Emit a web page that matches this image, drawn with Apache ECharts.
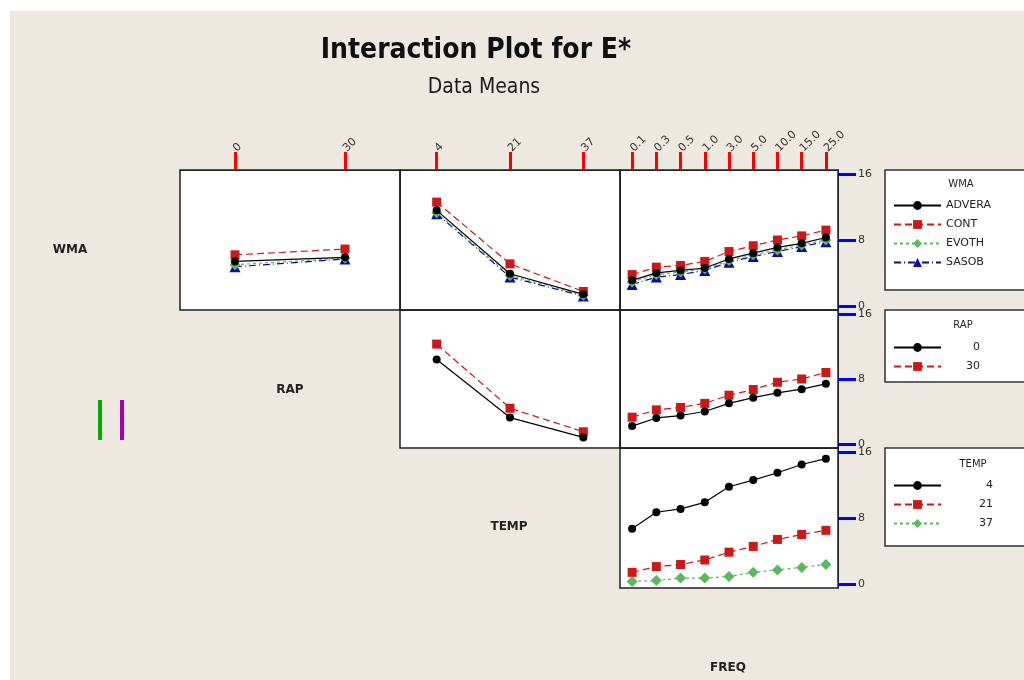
<!DOCTYPE html>
<html><head><meta charset="utf-8">
<script src="https://cdn.jsdelivr.net/npm/echarts@6/dist/echarts.min.js"></script>
<style>
html,body{margin:0;padding:0;background:#fff;}
#bg{position:absolute;left:10px;top:11px;width:1014px;height:669px;background:#ede9e1;}
#chart{position:absolute;left:0;top:0;width:1024px;height:680px;}
</style></head><body>
<div id="bg"></div><div id="chart"></div>
<script>
const RAP_LEVELS = ['0', '30'];
const TEMP_LEVELS = ['4', '21', '37'];
const FREQ_LEVELS = ['0.1', '0.3', '0.5', '1.0', '3.0', '5.0', '10.0', '15.0', '25.0'];
const WMA_LEVELS = ['ADVERA', 'CONT', 'EVOTH', 'SASOB'];
const Y_TICKS = [0, 8, 16];

const wmaRap_ADVERA = [5.4, 5.9];
const wmaRap_CONT   = [6.2, 6.9];
const wmaRap_EVOTH  = [5.0, 5.8];
const wmaRap_SASOB  = [4.75, 5.7];
const wmaTemp_ADVERA = [11.6, 3.9, 1.4];
const wmaTemp_CONT   = [12.6, 5.1, 1.75];
const wmaTemp_EVOTH  = [11.3, 3.7, 1.3];
const wmaTemp_SASOB  = [11.2, 3.5, 1.2];
const wmaFreq_ADVERA = [3.1, 4.0, 4.3, 4.6, 5.7, 6.4, 7.1, 7.6, 8.3];
const wmaFreq_CONT   = [3.8, 4.7, 4.9, 5.4, 6.6, 7.3, 8.0, 8.5, 9.2];
const wmaFreq_EVOTH  = [2.9, 3.8, 4.1, 4.5, 5.5, 6.2, 6.8, 7.4, 8.0];
const wmaFreq_SASOB  = [2.6, 3.5, 3.8, 4.3, 5.3, 6.0, 6.6, 7.2, 7.8];
const rapTemp_0  = [10.4, 3.25, 0.8];
const rapTemp_30 = [12.3, 4.4, 1.5];
const rapFreq_0  = [2.2, 3.2, 3.5, 4.0, 5.0, 5.7, 6.3, 6.75, 7.4];
const rapFreq_30 = [3.3, 4.2, 4.5, 5.0, 6.0, 6.7, 7.6, 8.0, 8.8];
const tempFreq_4  = [6.7, 8.7, 9.1, 9.9, 11.8, 12.6, 13.5, 14.5, 15.2];
const tempFreq_21 = [1.4, 2.1, 2.35, 2.9, 3.85, 4.55, 5.4, 6.0, 6.5];
const tempFreq_37 = [0.3, 0.4, 0.7, 0.7, 0.9, 1.4, 1.7, 2.0, 2.35];

const STY = [
  {color: '#000000', symbol: 'circle', size: 8, type: 'solid'},
  {color: '#cc1818', symbol: 'rect', size: 9, type: [7, 4]},
  {color: '#5cb85c', symbol: 'diamond', size: 11, type: [3, 3]},
  {color: '#0a0aa8', symbol: 'triangle', size: 11, type: [7, 3, 1, 3]}
];

const grids = [
  {left: 180, top: 170, width: 220, height: 140},
  {left: 400, top: 170, width: 220, height: 140},
  {left: 620, top: 170, width: 218, height: 140},
  {left: 400, top: 310, width: 220, height: 138},
  {left: 620, top: 310, width: 218, height: 138},
  {left: 620, top: 448, width: 218, height: 140}
];
const gridCats = [RAP_LEVELS, TEMP_LEVELS, FREQ_LEVELS, TEMP_LEVELS, FREQ_LEVELS, FREQ_LEVELS];
const showTop = [true, true, true, false, false, false];
const showRight = [false, false, true, false, true, true];

const FONT = "'DejaVu Sans', Verdana, sans-serif";
const AXC = '#222';

const xAxes = gridCats.map((cats, i) => ({
  gridIndex: i, type: 'category', data: cats, position: 'top',
  axisLine: {show: true, onZero: false, lineStyle: {color: AXC}},
  axisTick: {show: showTop[i], alignWithLabel: true, length: 18, lineStyle: {color: '#ff0000', width: 3}},
  axisLabel: {show: showTop[i], rotate: -45, margin: 20, fontSize: 11, color: '#333', fontFamily: FONT},
  splitLine: {show: false}
}));
const yAxes = grids.map((g, i) => ({
  gridIndex: i, type: 'value', min: -0.5, max: 16.5, position: 'right',
  axisLine: {show: true, lineStyle: {color: AXC}},
  splitLine: {show: false},
  axisTick: {show: showRight[i], customValues: Y_TICKS, length: 18, lineStyle: {color: '#0000ff', width: 3}},
  axisLabel: {show: showRight[i], customValues: Y_TICKS, margin: 20, fontSize: 11, color: '#333', fontFamily: FONT}
}));

function mk(name, data, gi, li) {
  const s = STY[li];
  return {
    type: 'line', name: name, xAxisIndex: gi, yAxisIndex: gi, data: data,
    symbol: s.symbol, symbolSize: s.size, z: 10 - li,
    lineStyle: {color: s.color, width: 1.2, type: s.type},
    itemStyle: {color: s.color},
    emphasis: {disabled: true}
  };
}

const series = [
  mk('ADVERA', wmaRap_ADVERA, 0, 0), mk('CONT', wmaRap_CONT, 0, 1), mk('EVOTH', wmaRap_EVOTH, 0, 2), mk('SASOB', wmaRap_SASOB, 0, 3),
  mk('ADVERA', wmaTemp_ADVERA, 1, 0), mk('CONT', wmaTemp_CONT, 1, 1), mk('EVOTH', wmaTemp_EVOTH, 1, 2), mk('SASOB', wmaTemp_SASOB, 1, 3),
  mk('ADVERA', wmaFreq_ADVERA, 2, 0), mk('CONT', wmaFreq_CONT, 2, 1), mk('EVOTH', wmaFreq_EVOTH, 2, 2), mk('SASOB', wmaFreq_SASOB, 2, 3),
  mk(RAP_LEVELS[0], rapTemp_0, 3, 0), mk(RAP_LEVELS[1], rapTemp_30, 3, 1),
  mk(RAP_LEVELS[0], rapFreq_0, 4, 0), mk(RAP_LEVELS[1], rapFreq_30, 4, 1),
  mk(TEMP_LEVELS[0], tempFreq_4, 5, 0), mk(TEMP_LEVELS[1], tempFreq_21, 5, 1), mk(TEMP_LEVELS[2], tempFreq_37, 5, 2)
];

const legendBase = {
  orient: 'vertical', left: 893, itemWidth: 47, itemHeight: 11, itemGap: 8,
  selectedMode: false, padding: 0,
  textStyle: {fontSize: 11, color: '#222', fontFamily: FONT}
};

const boxStyle = {fill: '#fff', stroke: '#333', lineWidth: 1.5};
const txt = (x, y, t, size, bold, align) => ({
  type: 'text', x: x, y: y, z: 100,
  style: {text: t, fontSize: size, fontWeight: bold ? 'bold' : 'normal', fill: '#222',
    fontFamily: FONT, align: align || 'center', verticalAlign: 'middle'}
});

const baseGraphic = [
  {type: 'rect', shape: {x: 885, y: 170, width: 160, height: 120}, style: boxStyle, z: 1},
  {type: 'rect', shape: {x: 885, y: 310, width: 160, height: 72}, style: boxStyle, z: 1},
  {type: 'rect', shape: {x: 885, y: 448, width: 160, height: 98}, style: boxStyle, z: 1},
  txt(961, 184, 'WMA', 10),
  txt(963, 325, 'RAP', 10),
  txt(973, 464, 'TEMP', 10),
  txt(70, 250, 'WMA', 12, true),
  txt(290, 390, 'RAP', 12, true),
  txt(509, 527, 'TEMP', 12, true),
  txt(728, 668, 'FREQ', 12, true),
  {type: 'line', z: 200, shape: {x1: 100, y1: 400, x2: 100, y2: 440}, style: {stroke: '#00aa00', lineWidth: 4}},
  {type: 'rect', z: 200, shape: {x: 120, y: 400, width: 4, height: 40}, style: {fill: '#aa00aa'}}
];

const option = {
  animation: false,
  title: [
    {text: 'Interaction Plot for E*', left: 471, top: 32, textAlign: 'center',
      textStyle: {fontSize: 28, fontWeight: 'bold', color: '#111', fontFamily: "'DejaVu Sans Condensed', 'Liberation Sans Narrow', sans-serif"}},
    {text: 'Data Means', left: 479, top: 72, textAlign: 'center',
      textStyle: {fontSize: 21, fontWeight: 'normal', color: '#1a1a1a', fontFamily: "'DejaVu Sans Condensed', 'Liberation Sans Narrow', sans-serif"}}
  ],
  grid: grids.map(g => Object.assign({show: true, borderColor: AXC, borderWidth: 1.5, backgroundColor: '#fff'}, g)),
  xAxis: xAxes,
  yAxis: yAxes,
  legend: [
    Object.assign({}, legendBase, {top: 200, data: WMA_LEVELS}),
    Object.assign({}, legendBase, {top: 342, data: RAP_LEVELS, formatter: '{r|{name}}',
      textStyle: {fontSize: 11, color: '#222', fontFamily: FONT, rich: {r: {width: 34, align: 'right', fontSize: 11, fontFamily: FONT}}}}),
    Object.assign({}, legendBase, {top: 480, data: TEMP_LEVELS, formatter: '{r|{name}}',
      textStyle: {fontSize: 11, color: '#222', fontFamily: FONT, rich: {r: {width: 47, align: 'right', fontSize: 11, fontFamily: FONT}}}})
  ],
  graphic: {elements: baseGraphic},
  series: series
};

const chart = echarts.init(document.getElementById('chart'), null, {renderer: 'canvas'});
chart.setOption(option);
</script>
</body></html>
